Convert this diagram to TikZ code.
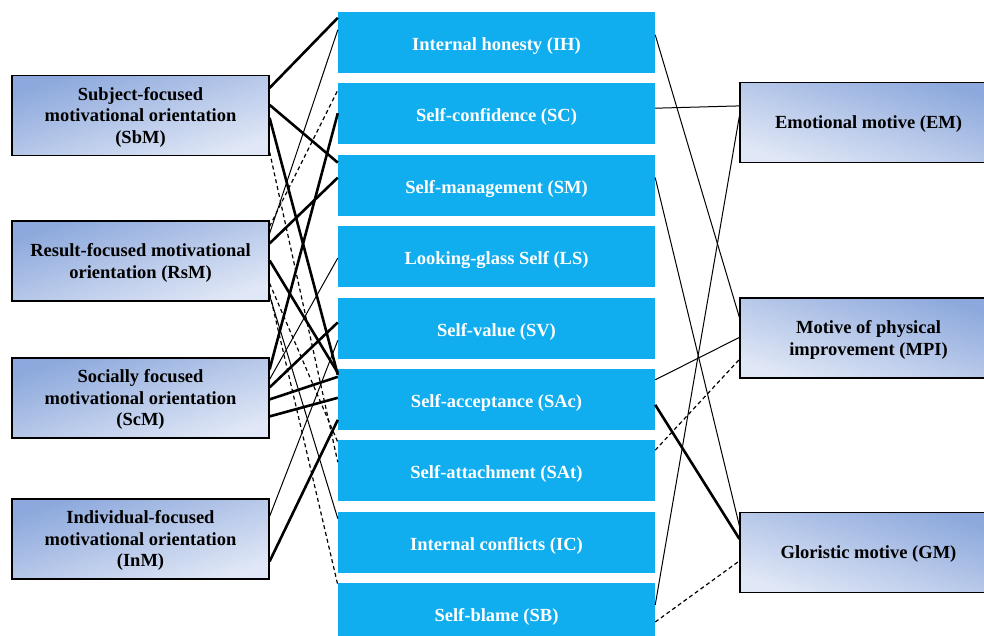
\documentclass[tikz,border=0pt]{standalone}
\usepackage{fontspec}
\setmainfont{Liberation Serif}
\usetikzlibrary{calc}
\definecolor{midblue}{RGB}{17,174,239}
\definecolor{boxdark}{RGB}{140,168,220}
\definecolor{boxlight}{RGB}{224,231,246}
\tikzset{
    midbox/.style={fill=midblue, text=white, minimum width=317pt, minimum height=61pt, inner sep=0pt,
        text height=20pt, text depth=4pt, font=\fontsize{18.5}{21.5}\selectfont\bfseries},
    sidebox/.style={draw=black, line width=1.2pt, minimum width=257pt, minimum height=80pt, inner sep=0pt,
        align=center, text depth=0.5pt, font=\fontsize{18.5}{21.5}\selectfont\bfseries},
    leftshade/.style={top color=boxdark, bottom color=boxlight, shading angle=18},
    rightshade/.style={top color=boxdark, bottom color=boxlight, shading angle=-18},
    strong/.style={line width=2.6pt},
    weak/.style={line width=1pt},
    neg/.style={line width=1.2pt, dash pattern=on 4pt off 3pt}
}
\begin{document}
\begin{tikzpicture}[x=1pt,y=-1pt]
\useasboundingbox (0,0) rectangle (984,635);
\clip (0,0) rectangle (984,635);
\foreach \n/\t [count=\i from 0] in {IH/{Internal honesty (IH)}, SC/{Self-confidence (SC)}, SM/{Self-management (SM)},
    LS/{Looking-glass Self (LS)}, SV/{Self-value (SV)}, SAc/{Self-acceptance (SAc)}, SAt/{Self-attachment (SAt)},
    IC/{Internal conflicts (IC)}, SB/{Self-blame (SB)}}{
    \node[midbox] (\n) at (496.5,{42.5+71.4*\i}) {\t};
}
% left column
\node[sidebox,leftshade] (SbM) at (140.5,115.5) {Subject-focused\\motivational orientation\\(SbM)};
\node[sidebox,leftshade] (RsM) at (140.5,261) {Result-focused motivational\\orientation (RsM)};
\node[sidebox,leftshade] (ScM) at (140.5,398) {Socially focused\\motivational orientation\\(ScM)};
\node[sidebox,leftshade] (InM) at (140.5,539) {Individual-focused\\motivational orientation\\(InM)};
% right column
\node[sidebox,rightshade] (EM) at (868.5,122.5) {Emotional motive (EM)};
\node[sidebox,rightshade] (MPI) at (868.5,338) {Motive of physical\\improvement (MPI)};
\node[sidebox,rightshade] (GM) at (868.5,552.5) {Gloristic motive (GM)};
\foreach \a/\da/\b/\db/\s in {SbM/13/IH/6/strong, SbM/30/SM/8/strong, SbM/43/SAc/6/strong, SbM/77/SAt/22/neg,
    RsM/6/SC/7/neg, RsM/13/IH/18/weak, RsM/23/SM/23/strong, RsM/40/SAc/4/strong, RsM/63/SAt/2/neg,
    RsM/73/SB/2/neg, RsM/75/IC/7/weak,
    ScM/12/SC/30/strong, ScM/22/LS/32/weak, ScM/30/SV/25/strong, ScM/42/SAc/8/strong, ScM/59/SAc/29/strong,
    InM/18/SV/43/weak, InM/63/SAc/51/strong}{
    \draw[\s] ([yshift=-\da]\a.north east) -- ([yshift=-\db]\b.north west);
}
\foreach \a/\da/\b/\db/\s in {IH/23/MPI/20/weak, SC/25/EM/24/weak, SM/23/GM/14/weak, SB/22/EM/34/weak,
    SAc/11/MPI/40/weak, SAt/10/MPI/62/neg, SAc/36/GM/27/strong, SB/39/GM/49/neg}{
    \draw[\s] ([yshift=-\da]\a.north east) -- ([yshift=-\db]\b.north west);
}
\end{tikzpicture}
\end{document}
